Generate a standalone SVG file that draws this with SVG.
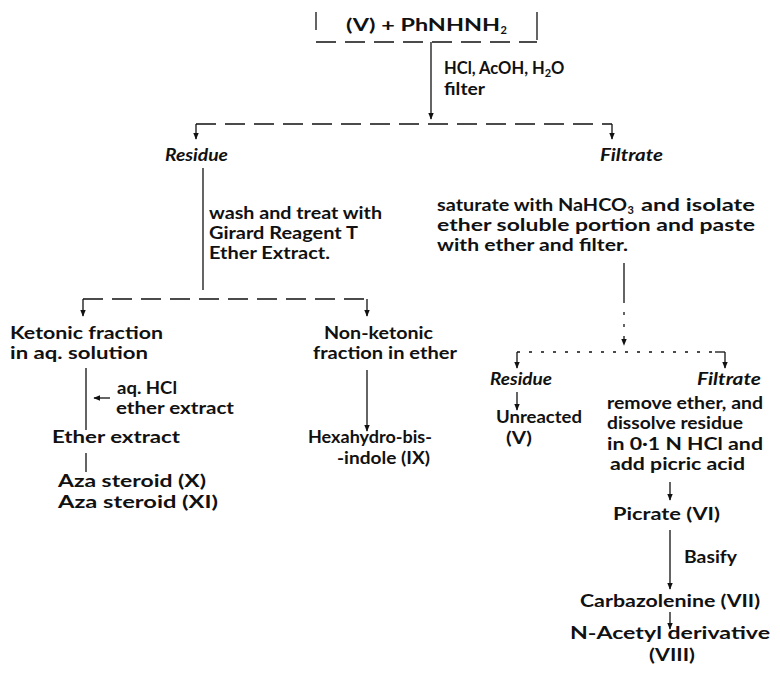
<svg xmlns="http://www.w3.org/2000/svg" width="780" height="673" viewBox="0 0 780 673">
<style>
text{font-family:Lato,"Open Sans",sans-serif;font-size:16.5px;font-weight:700;fill:#111}
.i{font-style:italic}
.sub{font-size:11px}
.ln{stroke:#111;stroke-width:1.3;fill:none}
.d{stroke-dasharray:20,9}
.d2{stroke-dasharray:3,9}
</style>
<defs>
<marker id="ah" viewBox="0 0 10 10" refX="9" refY="5" markerWidth="7" markerHeight="7" orient="auto" markerUnits="userSpaceOnUse">
<path d="M0,1 L10,5 L0,9 z" fill="#111"/>
</marker>
</defs>
<rect width="780" height="673" fill="#fff"/>
<g id="connectors">
<path class="ln" d="M316,12 V30"/>
<path class="ln" d="M537,12 V40"/>
<path class="ln d" d="M316,42 H537"/>
<path class="ln" d="M431,42 V119" marker-end="url(#ah)"/>
<path class="ln d" d="M196,124 H612"/>
<path class="ln" d="M196,124 V139" marker-end="url(#ah)"/>
<path class="ln" d="M612,124 V139" marker-end="url(#ah)"/>
<path class="ln" d="M203,168 V290"/>
<path class="ln d" d="M83,299 H367"/>
<path class="ln" d="M83,299 V316" marker-end="url(#ah)"/>
<path class="ln" d="M367,299 V316" marker-end="url(#ah)"/>
<path class="ln" d="M86,368 V430"/>
<path class="ln" d="M110,398 H94" marker-end="url(#ah)"/>
<path class="ln" d="M86,453 V472"/>
<path class="ln" d="M367,370 V431" marker-end="url(#ah)"/>
<path class="ln" d="M624,263 V300"/>
<path class="ln d2" d="M624,300 V345" marker-end="url(#ah)"/>
<path class="ln d2" d="M517,352 H715"/>
<path class="ln" d="M715,352 H725"/>
<path class="ln" d="M517,352 V368" marker-end="url(#ah)"/>
<path class="ln" d="M725,352 V368" marker-end="url(#ah)"/>
<path class="ln" d="M517,392 V410" marker-end="url(#ah)"/>
<path class="ln" d="M670,482 V500" marker-end="url(#ah)"/>
<path class="ln" d="M670,530 V589" marker-end="url(#ah)"/>
<path class="ln" d="M670,612 V629" marker-end="url(#ah)"/>
</g>
<g id="start"><text x="346" y="31" textLength="154" lengthAdjust="spacingAndGlyphs">(V) + PhNHNH</text><text class="sub" x="500.5" y="34">2</text></g>
<g id="step1"><text x="444" y="74">HCl, AcOH, H<tspan class="sub" dy="3">2</tspan><tspan dy="-3">O</tspan></text><text x="444" y="95" textLength="41" lengthAdjust="spacingAndGlyphs">filter</text></g>
<g id="residue1"><text class="i" x="165" y="161" textLength="63" lengthAdjust="spacingAndGlyphs">Residue</text></g>
<g id="filtrate1"><text class="i" x="600" y="161" textLength="63" lengthAdjust="spacingAndGlyphs">Filtrate</text></g>
<g id="step2"><text x="209" y="219" textLength="173" lengthAdjust="spacingAndGlyphs">wash and treat with</text><text x="209" y="239" textLength="149" lengthAdjust="spacingAndGlyphs">Girard Reagent T</text><text x="209" y="259" textLength="121" lengthAdjust="spacingAndGlyphs">Ether Extract.</text></g>
<g id="step3"><text x="437" y="211" textLength="190" lengthAdjust="spacingAndGlyphs">saturate with NaHCO</text><text class="sub" x="627.5" y="214">3</text><text x="641" y="211" textLength="114" lengthAdjust="spacingAndGlyphs">and isolate</text><text x="437" y="231" textLength="318" lengthAdjust="spacingAndGlyphs">ether soluble portion and paste</text><text x="437" y="251" textLength="191" lengthAdjust="spacingAndGlyphs">with ether and filter.</text></g>
<g id="ketonic"><text x="10" y="339" textLength="153" lengthAdjust="spacingAndGlyphs">Ketonic fraction</text><text x="10" y="359" textLength="138" lengthAdjust="spacingAndGlyphs">in aq. solution</text></g>
<g id="nonketonic"><text x="324" y="339" textLength="109" lengthAdjust="spacingAndGlyphs">Non-ketonic</text><text x="313" y="359" textLength="144" lengthAdjust="spacingAndGlyphs">fraction in ether</text></g>
<g id="step4"><text x="117" y="394" textLength="60" lengthAdjust="spacingAndGlyphs">aq. HCl</text><text x="116" y="414" textLength="118" lengthAdjust="spacingAndGlyphs">ether extract</text></g>
<g id="etherextract"><text x="52" y="443" textLength="128" lengthAdjust="spacingAndGlyphs">Ether extract</text></g>
<g id="aza"><text x="58" y="487" textLength="148" lengthAdjust="spacingAndGlyphs">Aza steroid (X)</text><text x="58" y="508" textLength="160" lengthAdjust="spacingAndGlyphs">Aza steroid (XI)</text></g>
<g id="hexahydro"><text x="308" y="443" textLength="124" lengthAdjust="spacingAndGlyphs">Hexahydro-bis-</text><text x="337" y="464" textLength="93" lengthAdjust="spacingAndGlyphs">-indole (IX)</text></g>
<g id="residue2"><text class="i" x="490" y="385" textLength="62" lengthAdjust="spacingAndGlyphs">Residue</text></g>
<g id="unreacted"><text x="496" y="423" textLength="86" lengthAdjust="spacingAndGlyphs">Unreacted</text><text x="506" y="444" textLength="26" lengthAdjust="spacingAndGlyphs">(V)</text></g>
<g id="filtrate2"><text class="i" x="697" y="385" textLength="64" lengthAdjust="spacingAndGlyphs">Filtrate</text></g>
<g id="step5"><text x="607" y="409" textLength="156" lengthAdjust="spacingAndGlyphs">remove ether, and</text><text x="607" y="429" textLength="136" lengthAdjust="spacingAndGlyphs">dissolve residue</text><text x="607" y="450" textLength="156" lengthAdjust="spacingAndGlyphs">in 0·1 N HCl and</text><text x="610" y="470" textLength="135" lengthAdjust="spacingAndGlyphs">add picric acid</text></g>
<g id="picrate"><text x="613" y="520" textLength="107" lengthAdjust="spacingAndGlyphs">Picrate (VI)</text></g>
<g id="basify"><text x="684" y="563" textLength="53" lengthAdjust="spacingAndGlyphs">Basify</text></g>
<g id="carbazolenine"><text x="580" y="607" textLength="180" lengthAdjust="spacingAndGlyphs">Carbazolenine (VII)</text></g>
<g id="acetyl"><text x="570" y="639" textLength="200" lengthAdjust="spacingAndGlyphs">N-Acetyl derivative</text><text x="649" y="661" textLength="46" lengthAdjust="spacingAndGlyphs">(VIII)</text></g>
</svg>
